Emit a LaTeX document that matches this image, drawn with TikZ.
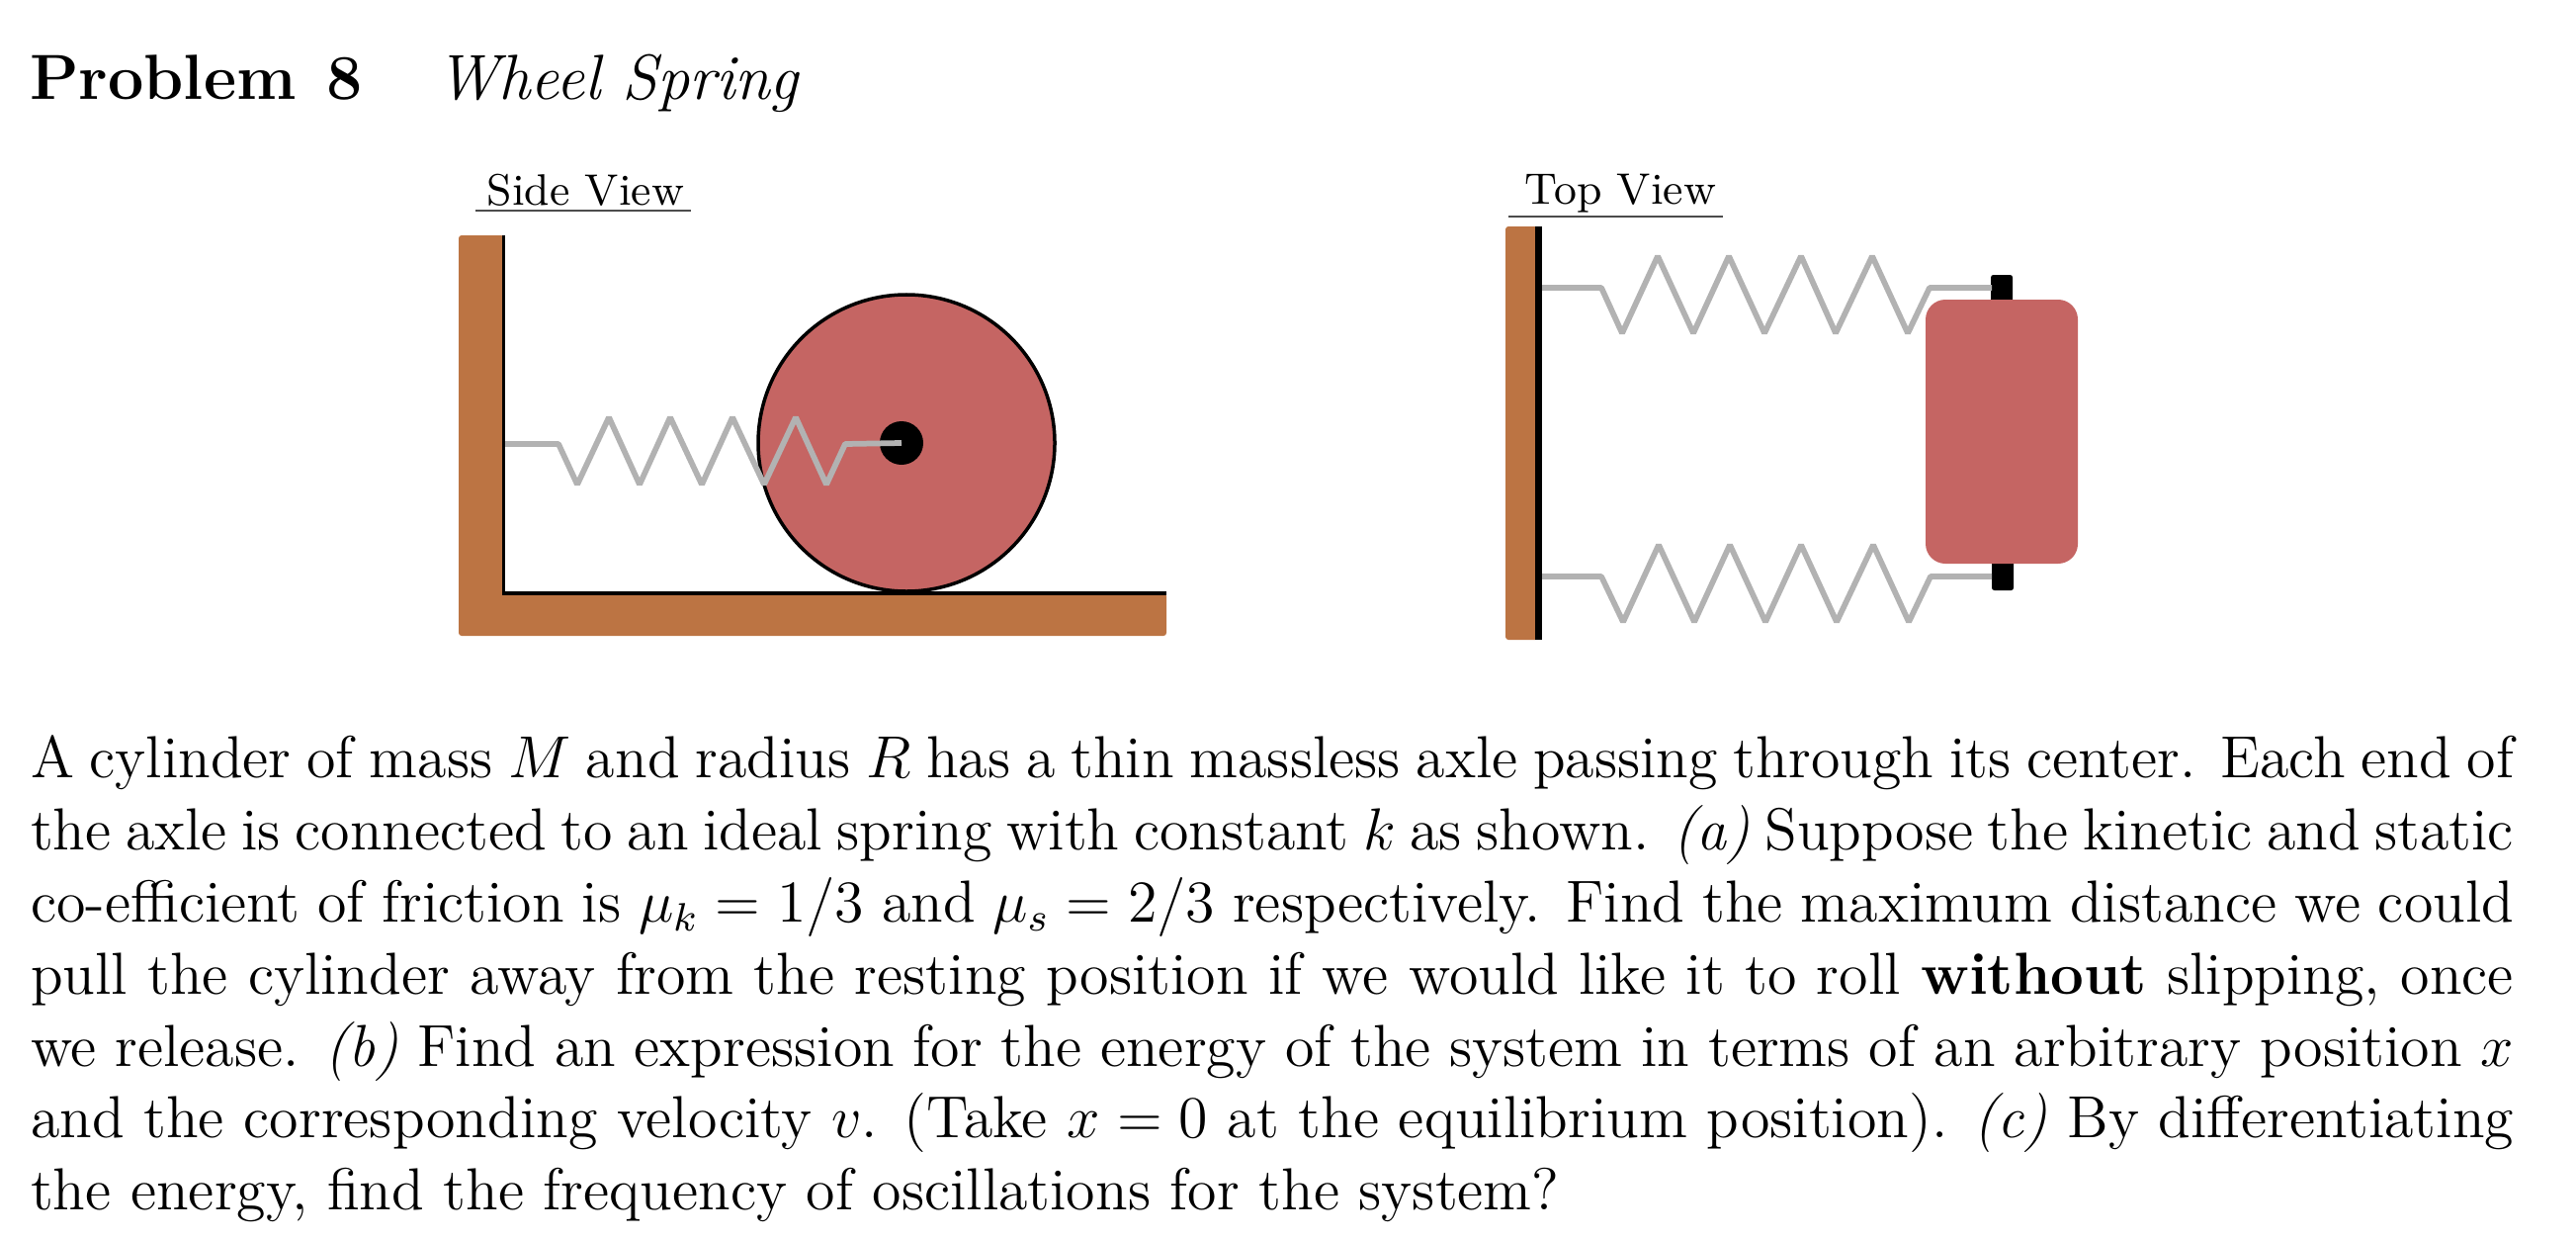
\documentclass[tikz,border=0pt]{standalone}
\usepackage{amsmath}
\definecolor{woodbrown}{RGB}{188,116,67}
\definecolor{wheelred}{RGB}{197,101,99}
\definecolor{springgray}{RGB}{178,178,178}
\tikzset{
  wood/.style={fill=woodbrown, rounded corners=0.6pt},
  edgeline/.style={black, line width=0.7pt},
  springline/.style={springgray, line width=1.15pt, line join=bevel},
  axlepin/.style={fill=black, rounded corners=0.5pt},
  viewlabel/.style={inner sep=0pt, anchor=base, font=\fontsize{8.9}{11}\selectfont},
  viewrule/.style={black!70, line width=0.25pt},
}
\begin{document}
\begin{tikzpicture}[x=0.2pt,y=-0.2pt]
        \useasboundingbox (0,0) rectangle (2606,1252);
        % heading
        \node[inner sep=0pt, anchor=base west] (problem) at (29,100.5) {\fontsize{12.9}{16}\selectfont\bfseries Problem\hspace{6.2pt}8};
        \node[inner sep=0pt, anchor=base west] (title) at (440,100.5) {\fontsize{12.9}{16}\selectfont\itshape Wheel Spring};
        % side view
        \node[viewlabel] (sidelabel) at (592.5,208) {Side View};
        \draw[viewrule] (481,213) -- (699,213);
        \fill[wood] (464,238) -- (510,238) -- (510,600) -- (1180,600) -- (1180,643) -- (464,643) -- cycle;
        \draw[edgeline] (509.5,238) -- (509.5,600) -- (1180,600);
        \node[circle, draw=black, fill=wheelred, line width=0.7pt, minimum size=60pt, inner sep=0pt] (wheel) at (917,448) {};
        \node[circle, fill=black, minimum size=8.8pt, inner sep=0pt] (axle) at (912,448) {};
        \coordinate (sidewall) at (511,449);
        \draw[springline] (sidewall) -- (565,449) -- (584,490) -- (616,422) -- (647,490) -- (678,422) -- (710,490)
                -- (741,422) -- (773,490) -- (805,422) -- (836,490) -- (855,449) -- (axle.center);
        % top view
        \node[viewlabel] (toplabel) at (1639.5,207) {Top View};
        \draw[viewrule] (1526,219) -- (1743,219);
        \fill[wood] (1523,229) -- (1556,229) -- (1556,647) -- (1523,647) -- cycle;
        \draw[black, line width=1.3pt] (1556.5,229) -- (1556.5,647);
        \fill[axlepin] (2014,278) rectangle (2036,310);
        \fill[axlepin] (2015,563) rectangle (2037,597);
        \fill[wheelred, rounded corners=4pt] (1948,303) rectangle (2102,570);
        \coordinate (topwalla) at (1560,291);
        \coordinate (topaxlea) at (2015,291);
        \coordinate (topwallb) at (1560,583);
        \coordinate (topaxleb) at (2015,583);
        \draw[springline] (topwalla) -- (1620,291) -- (1641,337) -- (1677,259) -- (1713,337) -- (1749,259) -- (1785,337)
                -- (1822,259) -- (1857,337) -- (1894,259) -- (1930,337) -- (1952,291) -- (topaxlea);
        \draw[springline] (topwallb) -- (1620,583) -- (1642,629) -- (1678,551) -- (1714,629) -- (1750,551) -- (1786,629)
                -- (1822,551) -- (1858,629) -- (1895,551) -- (1931,629) -- (1953,583) -- (topaxleb);
        % problem text
        \node[inner sep=0pt, anchor=north west, text width=502.4pt, align=justify] (body) at (30,743) {\fontsize{12}{14.56}\selectfont
        A cylinder of mass $M$ and radius $R$ has a thin massless axle passing through its center. Each end of\linebreak
        the axle is connected to an ideal spring with constant $k$ as shown. \emph{(a)} Suppose the kinetic and static\linebreak
        co-efficient of friction is $\mu_k=1/3$ and $\mu_s=2/3$ respectively. Find the maximum distance we could\linebreak
        pull the cylinder away from the resting position if we would like it to roll \textbf{without} slipping, once\linebreak
        we release. \emph{(b)} Find an expression for the energy of the system in terms of an arbitrary position $x$\linebreak
        and the corresponding velocity $v$. (Take $x=0$ at the equilibrium position). \emph{(c)} By differentiating\linebreak
        the energy, find the frequency of oscillations for the system?\par};
\end{tikzpicture}
\end{document}
